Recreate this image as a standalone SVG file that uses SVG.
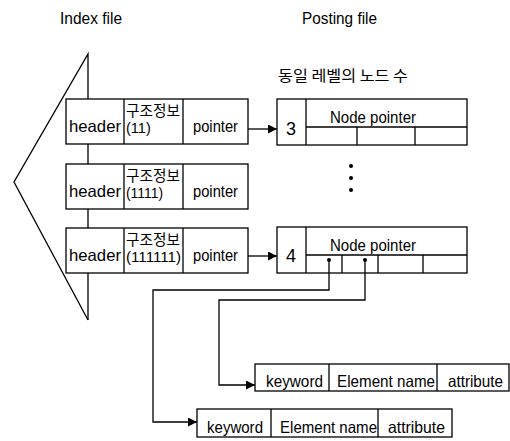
<svg xmlns="http://www.w3.org/2000/svg" width="510" height="441" viewBox="0 0 510 441">
  <style>
    .box { fill: #ffffff; stroke: #000000; stroke-width: 1.3; }
    .ln { fill: none; stroke: #000000; stroke-width: 1.3; }
    text { font-family: "Liberation Sans", Arial, "Noto Sans CJK KR", sans-serif; fill: #000000; }
    .t { font-size: 16.5px; }
    .k { font-size: 15px; font-family: "Noto Sans CJK KR", "Liberation Sans", sans-serif; }
    .s { font-size: 14.5px; }
    .n { font-size: 18px; text-anchor: middle; }
  </style>
  <defs>
    <marker id="arr" viewBox="0 0 10 10" refX="10" refY="5" markerWidth="9" markerHeight="9" markerUnits="userSpaceOnUse" orient="auto">
      <path d="M0,0 L10,5 L0,10 z" fill="#000000"/>
    </marker>
  </defs>

  <!-- titles -->
  <text class="t" x="60" y="24" textLength="62" lengthAdjust="spacingAndGlyphs">Index file</text>
  <text class="t" x="302" y="24" textLength="75" lengthAdjust="spacingAndGlyphs">Posting file</text>
  <text class="k" x="278" y="81" textLength="130" lengthAdjust="spacingAndGlyphs">동일 레벨의 노드 수</text>

  <!-- index outline: arrow shape and spine -->
  <g id="index-outline">
    <polyline class="ln" points="88,99 88,54 14,182 88,320"/>
    <line class="ln" x1="88" y1="144" x2="88" y2="164"/>
    <line class="ln" x1="88" y1="209" x2="88" y2="228"/>
    <line class="ln" x1="88" y1="273" x2="88" y2="320"/>
  </g>

  <!-- index entries -->
  <g id="entry1">
    <rect class="box" x="66" y="99" width="182" height="45"/>
    <line class="ln" x1="124" y1="99" x2="124" y2="144"/>
    <line class="ln" x1="183" y1="99" x2="183" y2="144"/>
    <text class="t" x="69" y="132" textLength="52" lengthAdjust="spacingAndGlyphs">header</text>
    <text class="k" x="126" y="116" textLength="54" lengthAdjust="spacingAndGlyphs">구조정보</text>
    <text class="s" x="126" y="133">(11)</text>
    <text class="t" x="193" y="132" textLength="45" lengthAdjust="spacingAndGlyphs">pointer</text>
  </g>
  <g id="entry2">
    <rect class="box" x="66" y="164" width="182" height="45"/>
    <line class="ln" x1="124" y1="164" x2="124" y2="209"/>
    <line class="ln" x1="183" y1="164" x2="183" y2="209"/>
    <text class="t" x="69" y="197" textLength="52" lengthAdjust="spacingAndGlyphs">header</text>
    <text class="k" x="126" y="181" textLength="54" lengthAdjust="spacingAndGlyphs">구조정보</text>
    <text class="s" x="126" y="198" textLength="37" lengthAdjust="spacingAndGlyphs">(1111)</text>
    <text class="t" x="193" y="197" textLength="45" lengthAdjust="spacingAndGlyphs">pointer</text>
  </g>
  <g id="entry3">
    <rect class="box" x="66" y="228" width="182" height="45"/>
    <line class="ln" x1="124" y1="228" x2="124" y2="273"/>
    <line class="ln" x1="183" y1="228" x2="183" y2="273"/>
    <text class="t" x="69" y="261" textLength="52" lengthAdjust="spacingAndGlyphs">header</text>
    <text class="k" x="126" y="245" textLength="54" lengthAdjust="spacingAndGlyphs">구조정보</text>
    <text class="s" x="126" y="262" textLength="55" lengthAdjust="spacingAndGlyphs">(111111)</text>
    <text class="t" x="193" y="261" textLength="45" lengthAdjust="spacingAndGlyphs">pointer</text>
  </g>

  <!-- posting records -->
  <g id="posting1">
    <rect class="box" x="277" y="99" width="190" height="46"/>
    <line class="ln" x1="306" y1="99" x2="306" y2="145"/>
    <line class="ln" x1="306" y1="127" x2="467" y2="127"/>
    <line class="ln" x1="357" y1="127" x2="357" y2="145"/>
    <line class="ln" x1="415" y1="127" x2="415" y2="145"/>
    <text class="n" x="291" y="135">3</text>
    <text class="t" x="330" y="123" textLength="86" lengthAdjust="spacingAndGlyphs">Node pointer</text>
  </g>
  <g id="ellipsis">
    <circle cx="351" cy="166" r="2" fill="#000000"/>
    <circle cx="351" cy="178" r="2" fill="#000000"/>
    <circle cx="351" cy="190" r="2" fill="#000000"/>
  </g>
  <g id="posting2">
    <rect class="box" x="277" y="227" width="190" height="46"/>
    <line class="ln" x1="306" y1="227" x2="306" y2="273"/>
    <line class="ln" x1="306" y1="255" x2="467" y2="255"/>
    <line class="ln" x1="342" y1="255" x2="342" y2="273"/>
    <line class="ln" x1="378" y1="255" x2="378" y2="273"/>
    <line class="ln" x1="423" y1="255" x2="423" y2="273"/>
    <text class="n" x="291" y="262">4</text>
    <text class="t" x="330" y="251" textLength="86" lengthAdjust="spacingAndGlyphs">Node pointer</text>
    <circle cx="329" cy="260" r="2" fill="#000000"/>
    <circle cx="365" cy="260" r="2" fill="#000000"/>
  </g>

  <!-- element records -->
  <g id="element1">
    <rect class="box" x="255" y="364" width="254" height="27"/>
    <line class="ln" x1="329" y1="364" x2="329" y2="391"/>
    <line class="ln" x1="437" y1="364" x2="437" y2="391"/>
    <text class="t" x="266" y="387" textLength="57" lengthAdjust="spacingAndGlyphs">keyword</text>
    <text class="t" x="337" y="387" textLength="98" lengthAdjust="spacingAndGlyphs">Element name</text>
    <text class="t" x="448" y="387" textLength="55" lengthAdjust="spacingAndGlyphs">attribute</text>
  </g>
  <g id="element2">
    <rect class="box" x="197" y="409" width="255" height="28"/>
    <line class="ln" x1="271" y1="409" x2="271" y2="437"/>
    <line class="ln" x1="378" y1="409" x2="378" y2="437"/>
    <text class="t" x="207" y="433" textLength="56" lengthAdjust="spacingAndGlyphs">keyword</text>
    <text class="t" x="280" y="433" textLength="97" lengthAdjust="spacingAndGlyphs">Element name</text>
    <text class="t" x="388" y="433" textLength="57" lengthAdjust="spacingAndGlyphs">attribute</text>
  </g>

  <!-- connectors -->
  <g id="connectors">
    <line class="ln" x1="248" y1="129" x2="277" y2="129" marker-end="url(#arr)"/>
    <line class="ln" x1="248" y1="256" x2="277" y2="256" marker-end="url(#arr)"/>
    <polyline class="ln" points="329,260 329,290 153,290 153,422 197,422" marker-end="url(#arr)"/>
    <polyline class="ln" points="365,260 365,300 219,300 219,385 255,385" marker-end="url(#arr)"/>
  </g>
</svg>
